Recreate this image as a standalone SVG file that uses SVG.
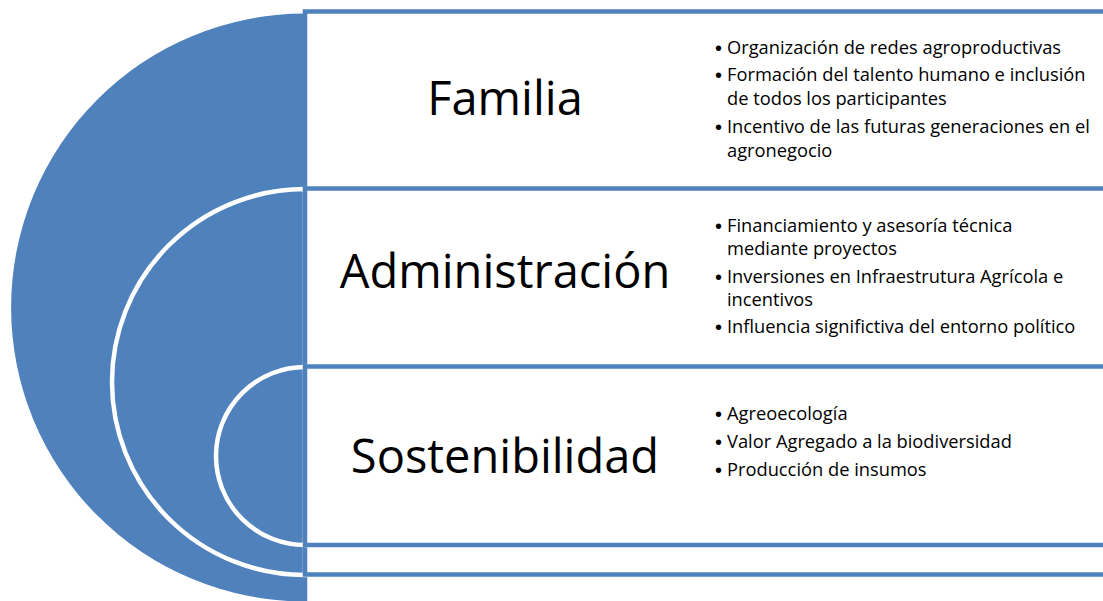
<svg xmlns="http://www.w3.org/2000/svg" width="1103" height="601" viewBox="0 0 1103 601">
  <style>
    .disc { fill: #4F81BD; stroke: #FFFFFF; stroke-width: 4.5; }
    .outer { fill: #4F81BD; stroke: none; }
    .box { fill: #FFFFFF; stroke: #4F81BD; stroke-width: 4.5; }
    .title { font-family: "Open Sans", "Liberation Sans", sans-serif; font-size: 47px; fill: #000000; text-anchor: middle; }
    .item { font-family: "Open Sans", "Liberation Sans", sans-serif; font-size: 18.3px; fill: #000000; }
    .bul { font-family: "Liberation Sans", sans-serif; font-size: 20px; }
  </style>
  <rect width="1103" height="601" fill="#FFFFFF"/>

  <g id="familia">
    <path class="outer" d="M305,13.5 A294,294 0 0 0 305,601.5 Z"/>
    <rect class="box" x="305" y="11.5" width="820" height="600"/>
    <text class="title" x="505" y="115">Familia</text>
    <text class="item"><tspan class="bul" x="715" y="55">•</tspan><tspan x="727" y="54">Organización de redes agroproductivas</tspan></text>
    <text class="item"><tspan class="bul" x="715" y="82">•</tspan><tspan x="727" y="81">Formación del talento humano e inclusión</tspan><tspan x="727" y="105">de todos los participantes</tspan></text>
    <text class="item"><tspan class="bul" x="715" y="134">•</tspan><tspan x="727" y="133">Incentivo de las futuras generaciones en el</tspan><tspan x="727" y="157">agronegocio</tspan></text>
  </g>

  <g id="administracion">
    <path class="disc" d="M305,189 A193,193 0 0 0 305,575 Z"/>
    <rect class="box" x="305" y="188.5" width="820" height="386"/>
    <text class="title" x="505" y="288">Administración</text>
    <text class="item"><tspan class="bul" x="715" y="233">•</tspan><tspan x="727" y="232">Financiamiento y asesoría técnica</tspan><tspan x="727" y="255">mediante proyectos</tspan></text>
    <text class="item"><tspan class="bul" x="715" y="284">•</tspan><tspan x="727" y="283">Inversiones en Infraestrutura Agrícola e</tspan><tspan x="727" y="306">incentivos</tspan></text>
    <text class="item"><tspan class="bul" x="715" y="334">•</tspan><tspan x="727" y="333">Influencia significtiva del entorno político</tspan></text>
  </g>

  <g id="sostenibilidad">
    <path class="disc" d="M305,367 A89,89 0 0 0 305,545 Z"/>
    <rect class="box" x="305" y="366.5" width="820" height="178.5"/>
    <text class="title" x="505" y="473">Sostenibilidad</text>
    <text class="item"><tspan class="bul" x="715" y="421">•</tspan><tspan x="727" y="420">Agreoecología</tspan></text>
    <text class="item"><tspan class="bul" x="715" y="449">•</tspan><tspan x="727" y="448">Valor Agregado a la biodiversidad</tspan></text>
    <text class="item"><tspan class="bul" x="715" y="477">•</tspan><tspan x="727" y="476">Producción de insumos</tspan></text>
  </g>

  <g id="connectors"></g>
</svg>
